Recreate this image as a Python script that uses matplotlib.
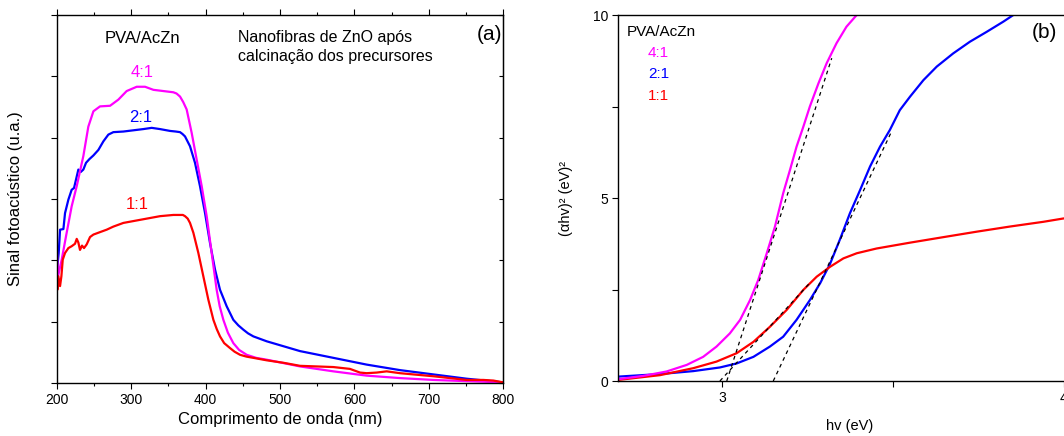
import matplotlib
matplotlib.use("Agg")
import matplotlib.pyplot as plt
from matplotlib.ticker import MultipleLocator, NullFormatter

plt.rcParams['font.family'] = ['Liberation Sans', 'DejaVu Sans']

# ---------------- Panel (a): photoacoustic spectra ----------------
wl_41 = [200, 201.8, 206.7, 213.4, 220.1, 226.9, 235.8, 242.5, 249.3, 258.2, 271.7, 282.8,
         294.0, 307.5, 318.7, 329.9, 343.3, 356.7, 361.0, 365.7, 370.0, 374.6, 381.3, 388.1,
         394.8, 401.5, 408.2, 414.9, 419.0, 423.9, 430.0, 437.3, 445.0, 455.2, 468.0, 482.1,
         526.9, 571.7, 616.4, 661.2, 706.0, 750.7, 800]
sig_41 = [2.23, 1.74, 2.01, 2.45, 2.88, 3.21, 3.70, 4.18, 4.43, 4.51, 4.52, 4.62,
          4.76, 4.83, 4.83, 4.78, 4.76, 4.74, 4.72, 4.67, 4.58, 4.46, 4.08, 3.64,
          3.21, 2.72, 2.12, 1.52, 1.25, 1.03, 0.82, 0.65, 0.54, 0.46, 0.41, 0.38,
          0.27, 0.19, 0.12, 0.08, 0.05, 0.03, 0.01]

wl_21 = [200.9, 202.7, 204.5, 209.0, 211.2, 215.7, 220.1, 223.3, 226.0, 229.1, 232.2, 235.8,
         239.4, 243.9, 249.3, 256.0, 262.7, 269.4, 276.1, 289.6, 303.0, 316.4, 327.6, 338.8,
         352.2, 360.0, 365.7, 369.0, 372.4, 379.1, 385.8, 392.5, 399.3, 406.0, 412.7, 419.4,
         428.4, 437.3, 444.0, 450.7, 457.0, 464.2, 482.1, 504.5, 526.9, 571.7, 616.4, 661.2,
         706.0, 750.7, 800]
sig_21 = [1.90, 2.12, 2.50, 2.51, 2.77, 2.99, 3.15, 3.18, 3.32, 3.48, 3.44, 3.48,
          3.59, 3.65, 3.71, 3.80, 3.94, 4.05, 4.09, 4.10, 4.12, 4.14, 4.16, 4.14,
          4.11, 4.10, 4.09, 4.06, 4.02, 3.86, 3.59, 3.21, 2.77, 2.28, 1.85, 1.52,
          1.25, 1.03, 0.94, 0.87, 0.81, 0.76, 0.68, 0.60, 0.52, 0.41, 0.30, 0.21,
          0.14, 0.07, 0.01]

wl_11 = [200, 200.9, 202.2, 204.5, 206.3, 208.1, 211.2, 215.7, 220.1, 224.6, 226.9, 229.1,
         231.3, 234.0, 236.7, 240.3, 244.8, 249.3, 258.2, 267.2, 276.1, 289.6, 303.0, 320.9,
         338.8, 356.7, 365.7, 369.5, 372.4, 376.0, 379.1, 383.6, 390.3, 397.0, 403.7, 410.5,
         415.0, 419.4, 425.0, 432.8, 439.0, 446.3, 455.0, 464.2, 482.1, 504.5, 526.9, 549.3,
         571.7, 594.0, 607.5, 616.4, 629.9, 643.3, 661.2, 706.0, 750.7, 773.1, 786.6, 800]
sig_11 = [1.68, 1.52, 1.74, 1.58, 1.74, 2.01, 2.12, 2.20, 2.23, 2.27, 2.35, 2.29,
          2.17, 2.24, 2.20, 2.26, 2.38, 2.42, 2.46, 2.50, 2.55, 2.61, 2.64, 2.68,
          2.72, 2.74, 2.74, 2.74, 2.72, 2.68, 2.61, 2.45, 2.12, 1.74, 1.36, 1.03,
          0.88, 0.76, 0.65, 0.57, 0.51, 0.46, 0.43, 0.41, 0.37, 0.33, 0.28, 0.27,
          0.26, 0.23, 0.17, 0.16, 0.17, 0.19, 0.16, 0.11, 0.05, 0.05, 0.04, 0.01]

# ---------------- Panel (b): Tauc plot ----------------
ev_41 = [2.697, 2.770, 2.838, 2.897, 2.945, 2.984, 3.023, 3.053, 3.082, 3.106, 3.131, 3.155,
         3.179, 3.199, 3.218, 3.238, 3.257, 3.282, 3.306, 3.335, 3.364, 3.394, 3.413]
tauc_41 = [0.05, 0.14, 0.26, 0.44, 0.66, 0.94, 1.30, 1.67, 2.21, 2.76, 3.49, 4.22,
           5.13, 5.77, 6.40, 6.95, 7.50, 8.13, 8.68, 9.23, 9.68, 10.0, 10.23]

ev_21 = [2.697, 2.819, 2.916, 2.994, 3.043, 3.092, 3.140, 3.179, 3.218, 3.257, 3.287, 3.316,
         3.345, 3.374, 3.404, 3.433, 3.462, 3.491, 3.520, 3.550, 3.589, 3.628, 3.676, 3.725,
         3.774, 3.823, 3.852, 3.881]
tauc_21 = [0.12, 0.19, 0.27, 0.37, 0.48, 0.66, 0.94, 1.21, 1.67, 2.21, 2.67, 3.20,
           3.87, 4.58, 5.22, 5.86, 6.40, 6.86, 7.40, 7.77, 8.22, 8.59, 8.95, 9.27,
           9.54, 9.82, 10.0, 10.18]

ev_11 = [2.697, 2.819, 2.916, 2.984, 3.043, 3.092, 3.140, 3.189, 3.238, 3.277, 3.316, 3.355,
         3.394, 3.452, 3.550, 3.647, 3.745, 3.842, 3.940, 3.998, 4.06]
tauc_11 = [0.03, 0.16, 0.35, 0.53, 0.76, 1.07, 1.48, 1.94, 2.49, 2.85, 3.12, 3.35,
           3.49, 3.62, 3.78, 3.93, 4.08, 4.22, 4.35, 4.44, 4.50]

# tangent (band-gap extrapolation) lines: [x0, x1], [y0, y1]
fit_41_x = [3.014, 3.321]
fit_41_y = [0.0, 8.82]
fit_11_x = [2.994, 3.257]
fit_11_y = [0.0, 2.68]
fit_21_x = [3.150, 3.495]
fit_21_y = [0.0, 6.80]

C_41 = '#FF00FF'
C_21 = '#0000FF'
C_11 = '#FF0000'

W, H = 1064, 436
fig = plt.figure(figsize=(W / 100, H / 100), dpi=100)

# ---- left axes ----
axa = fig.add_axes([56.7 / W, (H - 383) / H, 446.6 / W, 368 / H])
axa.plot(wl_21, sig_21, color=C_21, lw=1.6)
axa.plot(wl_41, sig_41, color=C_41, lw=1.6)
axa.plot(wl_11, sig_11, color=C_11, lw=1.6)
axa.set_xlim(200, 800)
axa.set_ylim(0, 6)
axa.xaxis.set_major_locator(MultipleLocator(100))
axa.xaxis.set_minor_locator(MultipleLocator(50))
axa.yaxis.set_major_locator(MultipleLocator(1))
axa.yaxis.set_major_formatter(NullFormatter())
axa.tick_params(axis='both', which='major', direction='out', length=4, width=0.8,
                labelsize=10, pad=3)
axa.tick_params(axis='x', which='minor', direction='out', length=2.5, width=0.8)
axa.tick_params(axis='x', which='both', top=True)
sec_r = axa.secondary_yaxis('right')
sec_r.yaxis.set_major_locator(MultipleLocator(1))
sec_r.yaxis.set_major_formatter(NullFormatter())
sec_r.tick_params(direction='in', length=3, width=0.8)
for sp in axa.spines.values():
    sp.set_linewidth(1.0)
axa.set_xlabel('Comprimento de onda (nm)', fontsize=12, labelpad=4)
axa.set_ylabel('Sinal fotoacústico (u.a.)', fontsize=12, labelpad=17)

axa.text(264.9, 5.61, 'PVA/AcZn', fontsize=12, ha='left', va='center')
axa.text(443.5, 5.48, 'Nanofibras de ZnO após\ncalcinação dos precursores',
         fontsize=11.5, ha='left', va='center', linespacing=1.35)
axa.text(781.7, 5.69, '(a)', fontsize=15, ha='center', va='center')
axa.text(314.6, 5.06, '4:1', fontsize=12, color=C_41, ha='center', va='center')
axa.text(313.0, 4.33, '2:1', fontsize=12, color=C_21, ha='center', va='center')
axa.text(307.7, 2.91, '1:1', fontsize=12, color=C_11, ha='center', va='center')

# ---- right axes ----
x_left, x_right = 2.696, 4.05
px_per_ev = 342.0
axb = fig.add_axes([618 / W, (H - 381) / H, (x_right - x_left) * px_per_ev / W, 366 / H])
axb.plot(ev_21, tauc_21, color=C_21, lw=1.6)
axb.plot(ev_11, tauc_11, color=C_11, lw=1.6)
axb.plot(ev_41, tauc_41, color=C_41, lw=1.6)
for fx, fy in ((fit_41_x, fit_41_y), (fit_11_x, fit_11_y), (fit_21_x, fit_21_y)):
    axb.plot(fx, fy, color='black', lw=0.9, ls=(0, (3, 3)))
axb.set_xlim(x_left, x_right)
axb.set_ylim(0, 10)
axb.xaxis.set_major_locator(MultipleLocator(1))
axb.xaxis.set_minor_locator(MultipleLocator(0.5))
axb.yaxis.set_major_locator(MultipleLocator(5))
axb.yaxis.set_minor_locator(MultipleLocator(2.5))
axb.tick_params(axis='both', which='major', direction='out', length=4, width=0.8,
                labelsize=10, pad=3)
axb.tick_params(axis='both', which='minor', direction='out', length=4, width=0.8)
for sp in axb.spines.values():
    sp.set_linewidth(1.0)
axb.set_xlabel('hv (eV)', fontsize=10.5, labelpad=10)
axb.set_ylabel('(αhv)² (eV)²', fontsize=10.5, labelpad=14)

axb.text(2.722, 9.54, 'PVA/AcZn', fontsize=11, ha='left', va='center')
axb.text(2.784, 8.96, '4:1', fontsize=11, color=C_41, ha='left', va='center')
axb.text(2.784, 8.39, '2:1', fontsize=11, color=C_21, ha='left', va='center')
axb.text(2.784, 7.79, '1:1', fontsize=11, color=C_11, ha='left', va='center')
axb.text(3.944, 9.51, '(b)', fontsize=15, ha='center', va='center')

fig.savefig('out.png', dpi=100)
